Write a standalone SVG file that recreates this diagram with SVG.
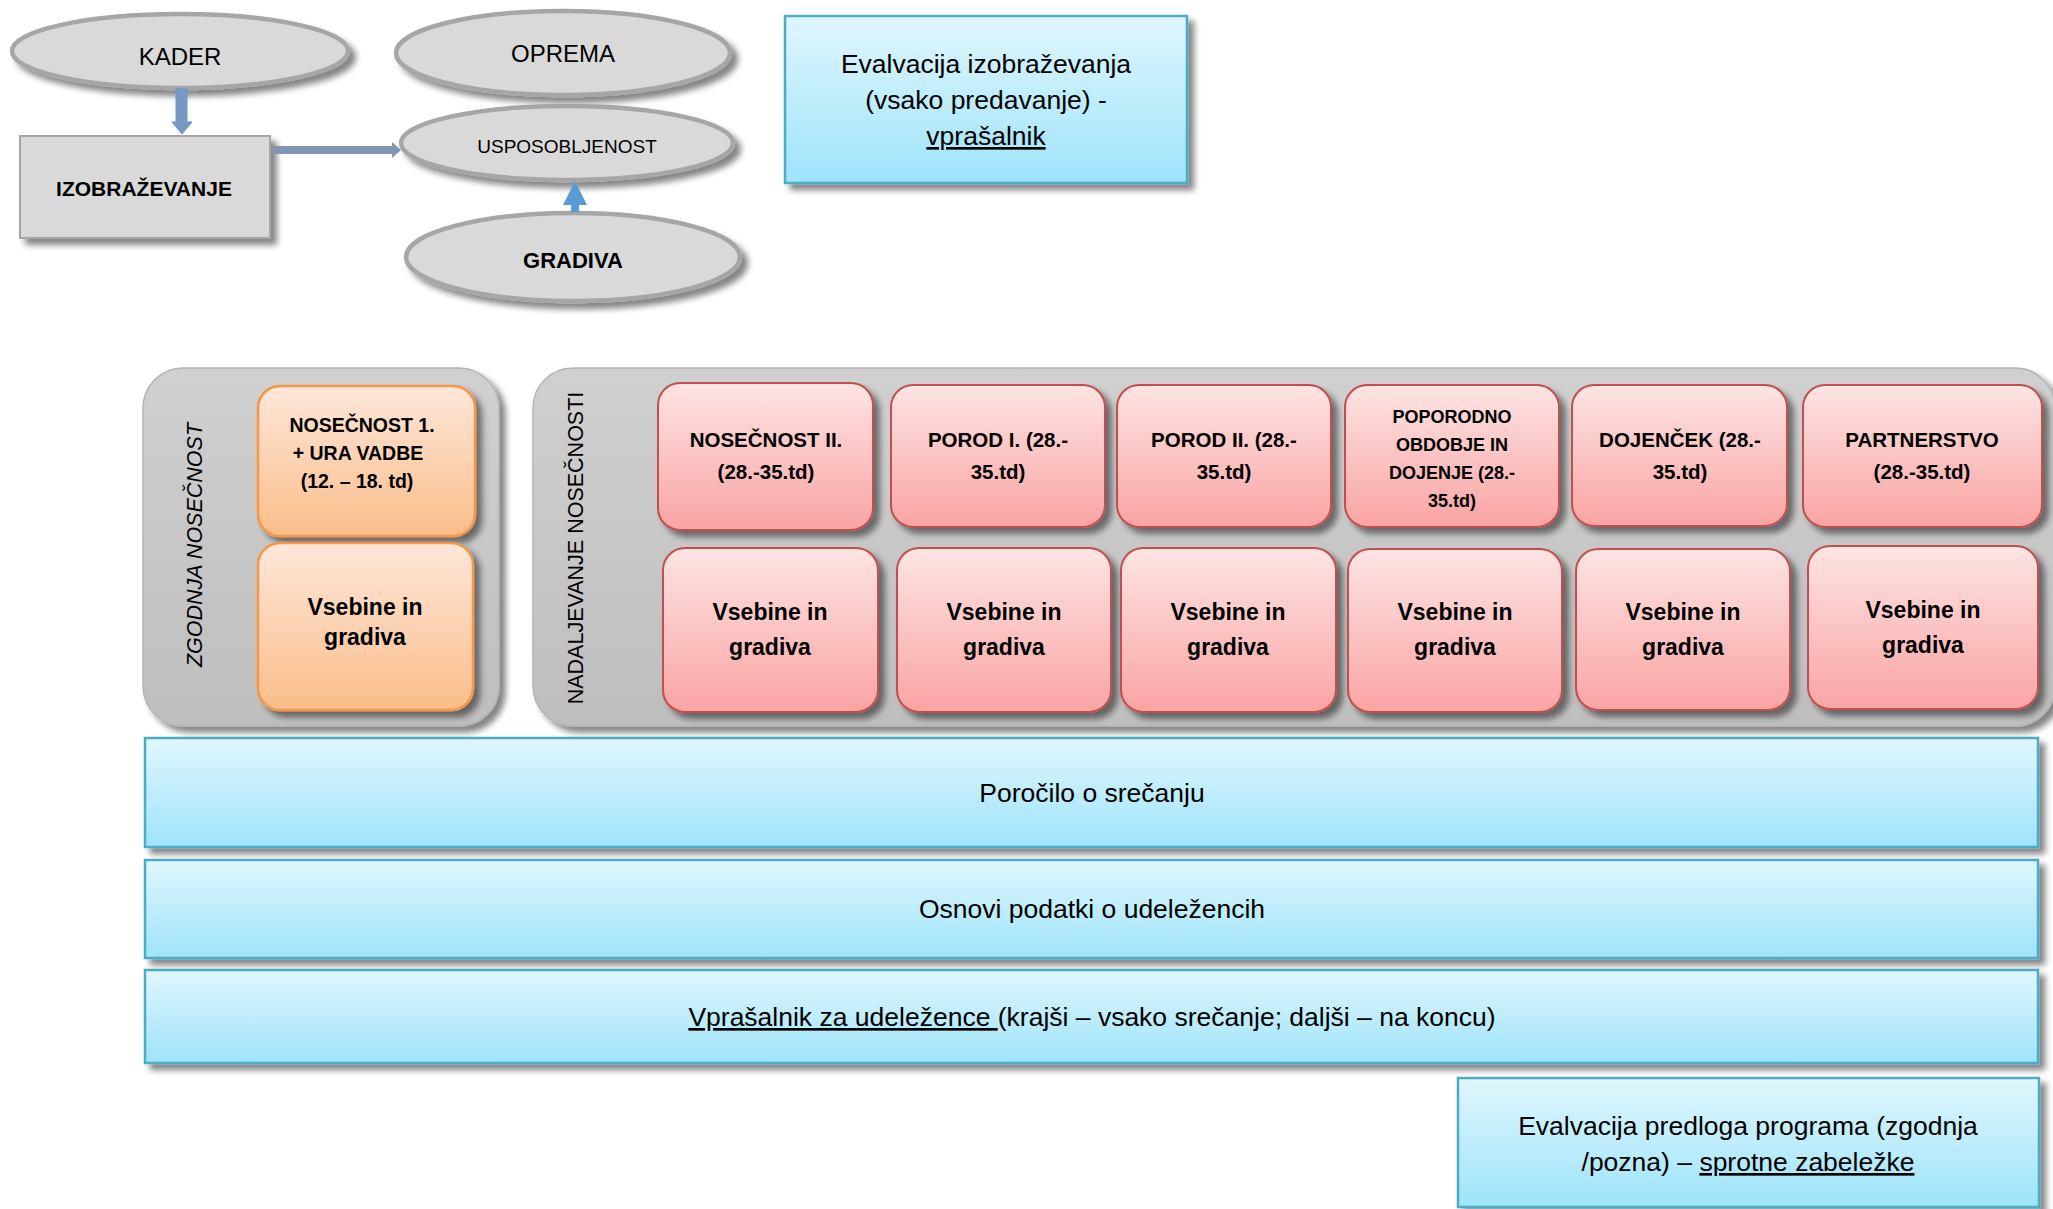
<svg xmlns="http://www.w3.org/2000/svg" width="2053" height="1209" viewBox="0 0 2053 1209">
<defs>
  <linearGradient id="gBlue" x1="0" y1="0" x2="0" y2="1">
    <stop offset="0" stop-color="#e0f6fd"/>
    <stop offset="1" stop-color="#9ee4fa"/>
  </linearGradient>
  <linearGradient id="gOrange" x1="0" y1="0" x2="0" y2="1">
    <stop offset="0" stop-color="#fde7d9"/>
    <stop offset="1" stop-color="#fbbd8a"/>
  </linearGradient>
  <linearGradient id="gRed" x1="0" y1="0" x2="0" y2="1">
    <stop offset="0" stop-color="#fde4e4"/>
    <stop offset="1" stop-color="#f9a4a3"/>
  </linearGradient>
  <linearGradient id="gGray" x1="0" y1="0" x2="0" y2="1">
    <stop offset="0" stop-color="#d0d0d0"/>
    <stop offset="1" stop-color="#bebebe"/>
  </linearGradient>
  <filter id="sh" x="-10%" y="-10%" width="130%" height="140%">
    <feGaussianBlur in="SourceAlpha" stdDeviation="3"/>
    <feOffset dx="6" dy="6"/>
    <feComponentTransfer><feFuncA type="linear" slope="0.48"/></feComponentTransfer>
    <feMerge><feMergeNode/><feMergeNode in="SourceGraphic"/></feMerge>
  </filter>
  <style>
    text { font-family: "Liberation Sans", Arial, sans-serif; fill: #000; }
    .ell { fill: #d9d9d9; stroke: #a6a6a6; stroke-width: 4.5; filter: url(#sh); }
    .grayrect { fill: #d9d9d9; stroke: #a6a6a6; stroke-width: 2; filter: url(#sh); }
    .blue { fill: url(#gBlue); stroke: #4bacc6; stroke-width: 2.5; filter: url(#sh); }
    .cont { fill: url(#gGray); stroke: #b4b4b4; stroke-width: 1.5; filter: url(#sh); }
    .orange { fill: url(#gOrange); stroke: #f79646; stroke-width: 2.5; filter: url(#sh); }
    .red { fill: url(#gRed); stroke: #c0504d; stroke-width: 2; filter: url(#sh); }
    .t26 { font-size: 26.5px; text-anchor: middle; }
    .tb { font-weight: bold; text-anchor: middle; }
    .vs { font-size: 23px; font-weight: bold; text-anchor: middle; }
    .rt { font-size: 20.5px; font-weight: bold; text-anchor: middle; }
    .u { text-decoration: underline; }
  </style>
</defs>

<!-- Top-left concept diagram -->
<g id="kader">
  <ellipse class="ell" cx="180" cy="51" rx="168" ry="37"/>
  <text x="180" y="65" font-size="24" text-anchor="middle">KADER</text>
</g>
<g id="oprema">
  <ellipse class="ell" cx="563" cy="53" rx="167" ry="42"/>
  <text x="563" y="62" font-size="24" text-anchor="middle">OPREMA</text>
</g>
<g id="usposobljenost">
  <ellipse class="ell" cx="567" cy="143" rx="166" ry="37"/>
  <text x="567" y="153" font-size="19" text-anchor="middle">USPOSOBLJENOST</text>
</g>
<g id="gradiva">
  <ellipse class="ell" cx="573" cy="257" rx="167" ry="44"/>
  <text x="573" y="268" font-size="22" class="tb">GRADIVA</text>
</g>
<g id="izobrazevanje">
  <rect class="grayrect" x="20" y="136" width="250" height="102"/>
  <text x="144" y="196" font-size="21" class="tb">IZOBRAŽEVANJE</text>
</g>

<g id="connectors">
  <polygon points="176,89 187,89 187,122 192,122 182,134 172,122 176,122" fill="#7b98c0" stroke="#5b9bd5" stroke-width="1"/>
  <polygon points="274,146 392,146 392,142 401,150 392,158 392,154 274,154" fill="#8097b4"/>
  <polygon points="571,212 579,212 579,205 587,205 575,181 563,205 571,205" fill="#5b9bd5"/>
</g>

<g id="eval-izobrazevanja">
  <rect class="blue" x="785" y="16" width="402" height="167"/>
  <text class="t26" x="986" y="73">Evalvacija izobraževanja</text>
  <text class="t26" x="986" y="109">(vsako predavanje) -</text>
  <text class="t26" x="986" y="145"><tspan class="u">vprašalnik</tspan></text>
</g>

<!-- Early pregnancy container -->
<g id="zgodnja">
  <rect class="cont" x="143" y="368" width="356" height="358" rx="40" ry="40"/>
  <text transform="translate(202,545) rotate(-90)" font-size="21.5" font-style="italic" text-anchor="middle">ZGODNJA NOSEČNOST</text>
</g>
<g id="nosecnost1">
  <rect class="orange" x="258" y="386" width="217" height="150" rx="22" ry="22"/>
  <text x="362" y="432" font-size="19.5" class="tb">NOSEČNOST 1.</text>
  <text x="358" y="460" font-size="19.5" class="tb">+ URA VADBE</text>
  <text x="357" y="488" font-size="19.5" class="tb">(12. – 18. td)</text>
</g>
<g id="vsebine-z">
  <rect class="orange" x="258" y="543" width="215" height="167" rx="22" ry="22"/>
  <text x="365" y="615" class="vs">Vsebine in</text>
  <text x="365" y="645" class="vs">gradiva</text>
</g>

<!-- Continuation container -->
<g id="nadaljevanje">
  <rect class="cont" x="533" y="368" width="1522" height="358" rx="40" ry="40"/>
  <text transform="translate(583,548) rotate(-90)" font-size="21.5" text-anchor="middle">NADALJEVANJE NOSEČNOSTI</text>
</g>

<g id="nosecnost2">
  <rect class="red" x="658" y="383" width="215" height="147" rx="22" ry="22"/>
  <text x="766" y="447" class="rt">NOSEČNOST II.</text>
  <text x="766" y="479" class="rt">(28.-35.td)</text>
</g>
<g id="porod1">
  <rect class="red" x="891" y="385" width="214" height="142" rx="22" ry="22"/>
  <text x="998" y="447" class="rt">POROD I. (28.-</text>
  <text x="998" y="479" class="rt">35.td)</text>
</g>
<g id="porod2">
  <rect class="red" x="1117" y="385" width="214" height="142" rx="22" ry="22"/>
  <text x="1224" y="447" class="rt">POROD II. (28.-</text>
  <text x="1224" y="479" class="rt">35.td)</text>
</g>
<g id="poporodno">
  <rect class="red" x="1345" y="385" width="214" height="142" rx="22" ry="22"/>
  <text x="1452" y="423" font-size="18" class="tb">POPORODNO</text>
  <text x="1452" y="451" font-size="18" class="tb">OBDOBJE IN</text>
  <text x="1452" y="479" font-size="18" class="tb">DOJENJE (28.-</text>
  <text x="1452" y="507" font-size="18" class="tb">35.td)</text>
</g>
<g id="dojencek">
  <rect class="red" x="1572" y="385" width="215" height="141" rx="22" ry="22"/>
  <text x="1680" y="447" class="rt">DOJENČEK (28.-</text>
  <text x="1680" y="479" class="rt">35.td)</text>
</g>
<g id="partnerstvo">
  <rect class="red" x="1803" y="385" width="239" height="142" rx="22" ry="22"/>
  <text x="1922" y="447" class="rt">PARTNERSTVO</text>
  <text x="1922" y="479" class="rt">(28.-35.td)</text>
</g>

<g id="vsebine-1">
  <rect class="red" x="663" y="548" width="215" height="164" rx="22" ry="22"/>
  <text x="770" y="620" class="vs">Vsebine in</text>
  <text x="770" y="655" class="vs">gradiva</text>
</g>
<g id="vsebine-2">
  <rect class="red" x="897" y="548" width="214" height="164" rx="22" ry="22"/>
  <text x="1004" y="620" class="vs">Vsebine in</text>
  <text x="1004" y="655" class="vs">gradiva</text>
</g>
<g id="vsebine-3">
  <rect class="red" x="1121" y="548" width="215" height="164" rx="22" ry="22"/>
  <text x="1228" y="620" class="vs">Vsebine in</text>
  <text x="1228" y="655" class="vs">gradiva</text>
</g>
<g id="vsebine-4">
  <rect class="red" x="1348" y="549" width="214" height="163" rx="22" ry="22"/>
  <text x="1455" y="620" class="vs">Vsebine in</text>
  <text x="1455" y="655" class="vs">gradiva</text>
</g>
<g id="vsebine-5">
  <rect class="red" x="1576" y="549" width="214" height="161" rx="22" ry="22"/>
  <text x="1683" y="620" class="vs">Vsebine in</text>
  <text x="1683" y="655" class="vs">gradiva</text>
</g>
<g id="vsebine-6">
  <rect class="red" x="1808" y="546" width="230" height="163" rx="22" ry="22"/>
  <text x="1923" y="618" class="vs">Vsebine in</text>
  <text x="1923" y="653" class="vs">gradiva</text>
</g>

<!-- Bottom bars -->
<g id="porocilo">
  <rect class="blue" x="145" y="738" width="1893" height="109"/>
  <text class="t26" x="1092" y="802">Poročilo o srečanju</text>
</g>
<g id="osnovni-podatki">
  <rect class="blue" x="145" y="860" width="1893" height="98"/>
  <text class="t26" x="1092" y="918">Osnovi podatki o udeležencih</text>
</g>
<g id="vprasalnik">
  <rect class="blue" x="145" y="970" width="1893" height="93"/>
  <text class="t26" x="1092" y="1026"><tspan class="u">Vprašalnik za udeležence </tspan>(krajši – vsako srečanje; daljši – na koncu)</text>
</g>
<g id="eval-programa">
  <rect class="blue" x="1458" y="1078" width="581" height="129"/>
  <text class="t26" x="1748" y="1135">Evalvacija predloga programa (zgodnja</text>
  <text class="t26" x="1748" y="1171">/pozna) – <tspan class="u">sprotne zabeležke</tspan></text>
</g>
</svg>
